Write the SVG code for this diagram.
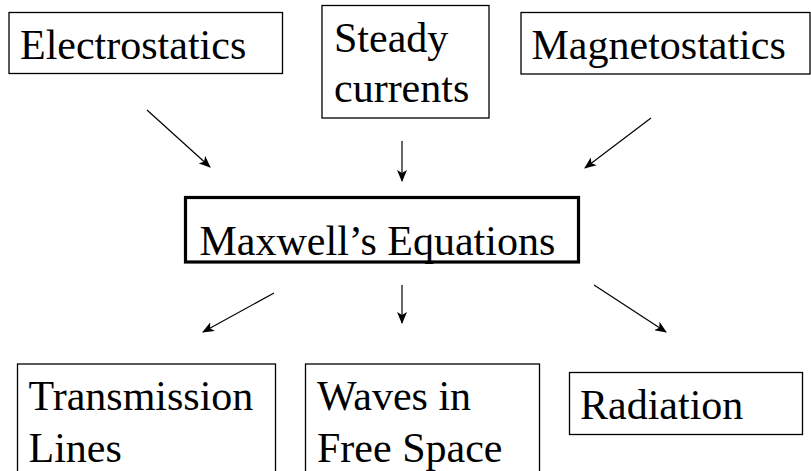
<svg xmlns="http://www.w3.org/2000/svg" width="811" height="471" viewBox="0 0 811 471">
<style>
.box{fill:#fff;stroke:#000;stroke-width:1.3}
.main{fill:#fff;stroke:#000;stroke-width:3.2}
text{font-family:'Liberation Serif','Times New Roman',Times,serif;font-size:42px;fill:#000}
.c{stroke:#000;stroke-width:1.2;fill:none;marker-end:url(#ah)}
</style>
<defs>
<marker id="ah" viewBox="0 0 12 10" refX="11" refY="5" markerWidth="12" markerHeight="10" markerUnits="userSpaceOnUse" orient="auto">
<path d="M0,0 L12,5 L0,10 L3,5 Z" fill="#000"/>
</marker>
</defs>
<rect width="811" height="471" fill="#fff"/>
<g font-family="Liberation Serif, serif" font-size="42">
<g id="electrostatics"><rect class="box" x="9" y="12.5" width="273.5" height="61"/><text x="20" y="59">Electrostatics</text></g>
<g id="steady"><rect class="box" x="322" y="5.5" width="167" height="112.5"/><text x="334" y="52">Steady</text><text x="334" y="101.5">currents</text></g>
<g id="magnetostatics"><rect class="box" x="521" y="12.5" width="289" height="61.5"/><text x="531.5" y="59">Magnetostatics</text></g>
<g id="maxwell"><rect class="main" x="185.5" y="197.5" width="393" height="64.5"/><text x="199.5" y="254.5">Maxwell’s Equations</text></g>
<g id="transmission"><rect class="box" x="17.5" y="364" width="258" height="130"/><text x="28.5" y="409.5">Transmission</text><text x="28.5" y="461.5">Lines</text></g>
<g id="waves"><rect class="box" x="305.5" y="364" width="234" height="130"/><text x="317" y="409.5">Waves in</text><text x="317" y="461.5">Free Space</text></g>
<g id="radiation"><rect class="box" x="569.5" y="372.5" width="233" height="62"/><text x="580" y="418.5">Radiation</text></g>
</g>
<g id="connectors">
<line class="c" x1="147" y1="110" x2="210" y2="167"/>
<line class="c" x1="402" y1="141" x2="402" y2="181"/>
<line class="c" x1="651" y1="118" x2="585" y2="168"/>
<line class="c" x1="274" y1="293" x2="203" y2="332"/>
<line class="c" x1="402" y1="285" x2="402" y2="323"/>
<line class="c" x1="594" y1="285" x2="666" y2="332"/>
</g>
</svg>
